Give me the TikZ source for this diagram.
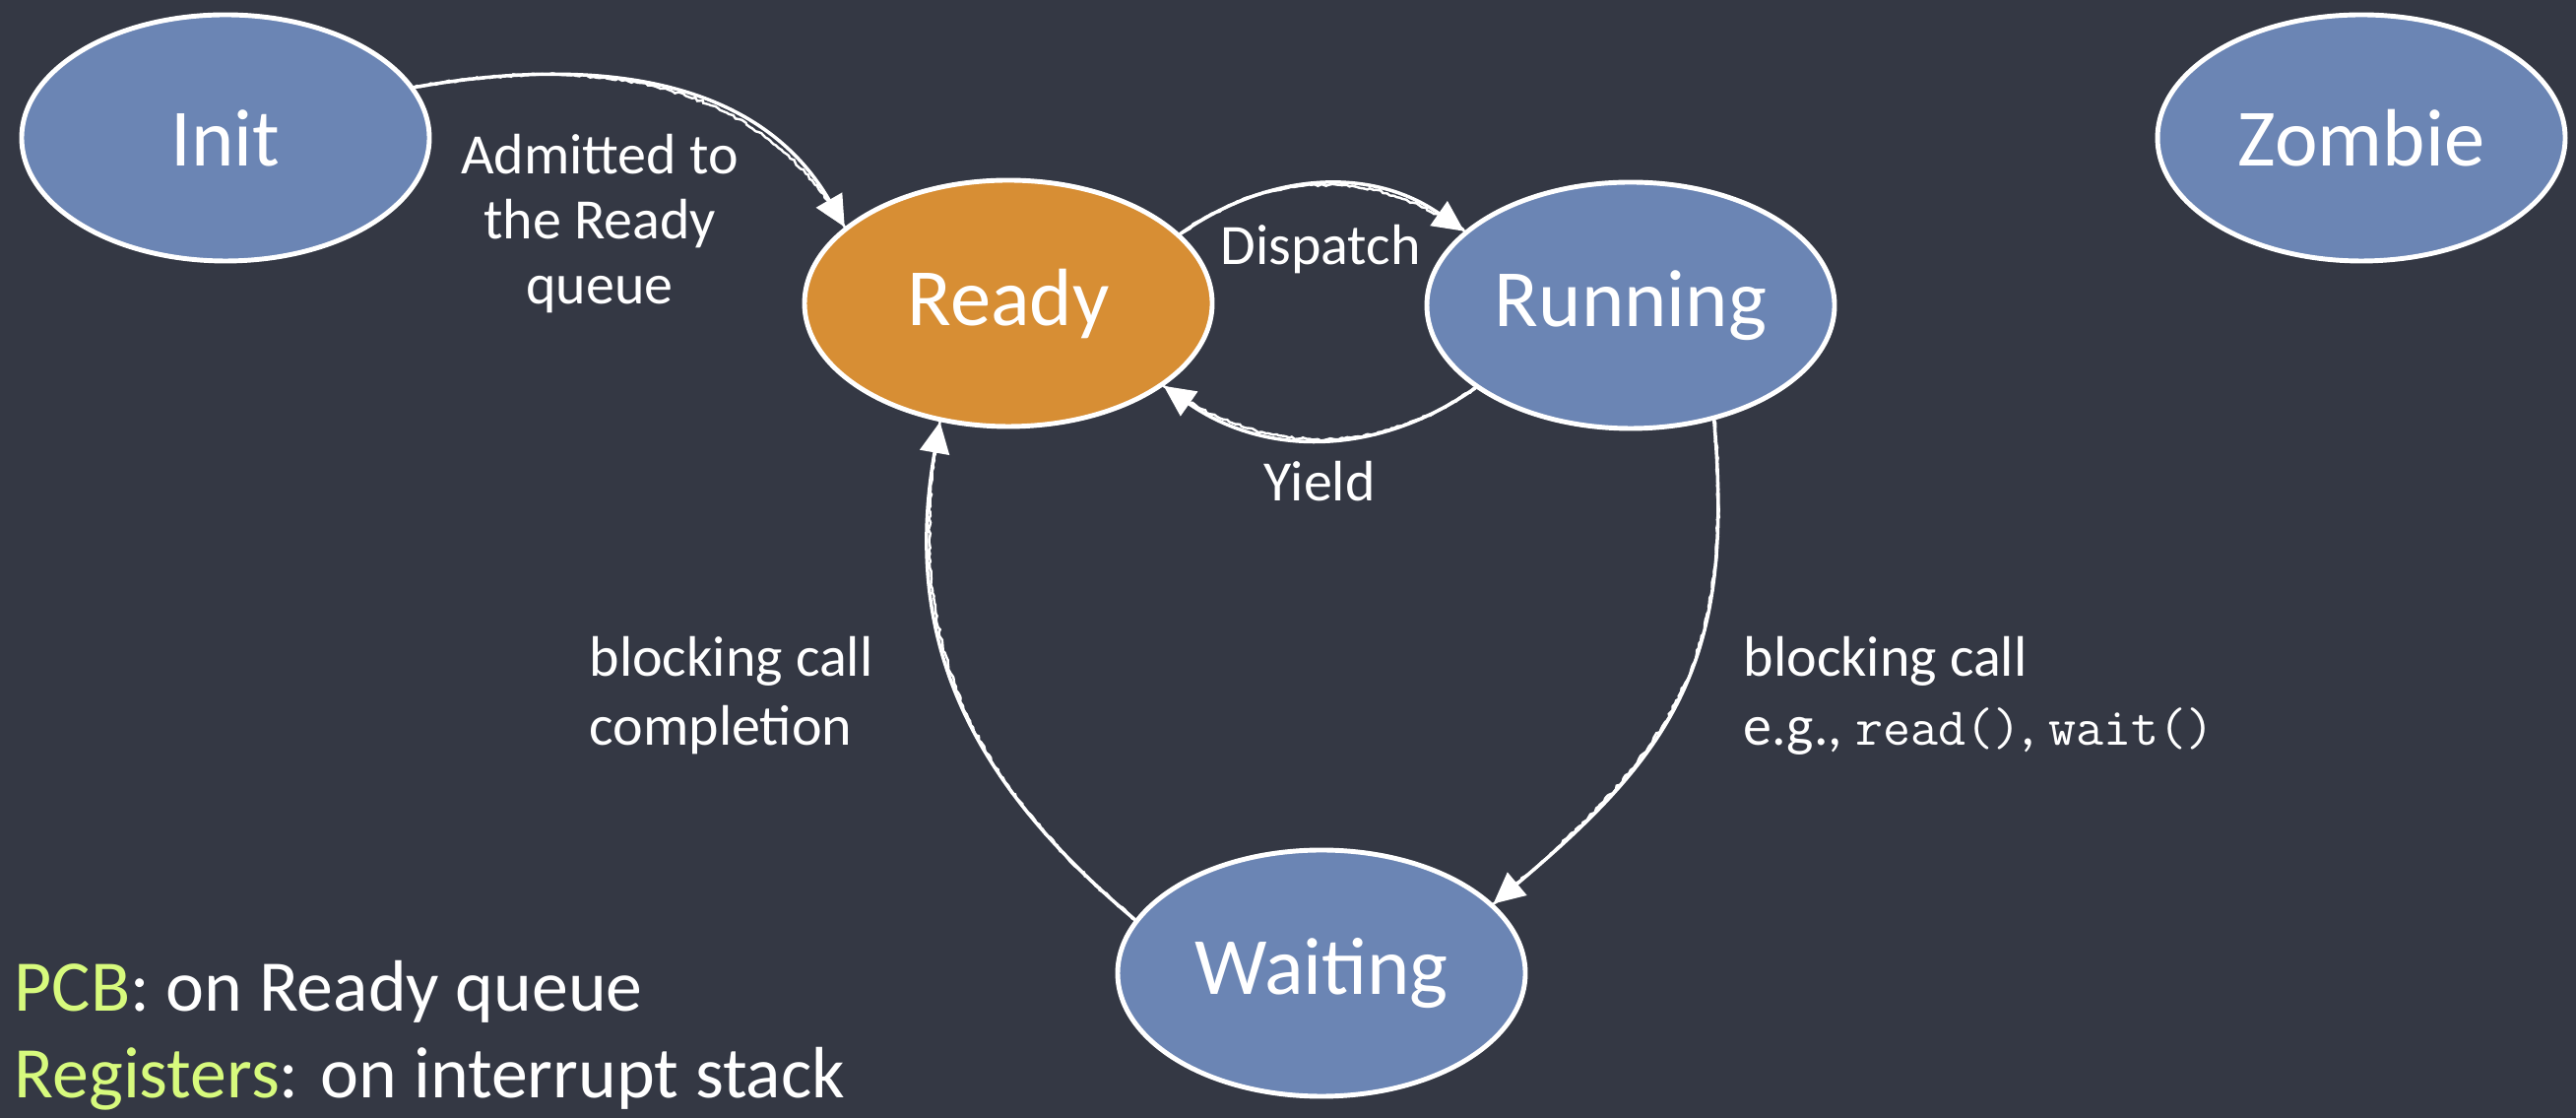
\documentclass[tikz,border=0pt]{standalone}
\usepackage{fontspec}
\setmainfont{Carlito}
\usetikzlibrary{shapes.geometric,arrows.meta,decorations.pathmorphing}
\definecolor{board}{RGB}{52,56,68}
\definecolor{stateblue}{RGB}{107,133,180}
\definecolor{stateorange}{RGB}{215,142,52}
\definecolor{chalkgreen}{RGB}{215,250,125}
\newcommand{\codeword}[1]{{\ttfamily\fontsize{15.5}{18}\selectfont #1}}
\begin{document}
\begin{tikzpicture}[
  state/.style={ellipse, draw=white, line width=1.4pt, fill=stateblue,
    minimum width=4.14cm, minimum height=2.5cm, inner sep=0pt,
    text=white, font=\fontsize{23.5}{27}\selectfont},
  chalk/.style={draw=white, line width=1pt, line cap=round,
    -{Triangle[length=9pt,width=8.5pt]},
    postaction={draw=white, line width=0.7pt, -, decorate,
      decoration={random steps, segment length=1pt, amplitude=0.35pt}}},
  lbl/.style={text=white, font=\fontsize{16.5}{20}\selectfont, inner sep=0pt},
  note/.style={text=white, font=\fontsize{21}{25}\selectfont, inner sep=0pt}
]
% chalkboard
\useasboundingbox (0,0) rectangle (26.16,11.35);
\fill[board] (0,0) rectangle (26.16,11.35);

% process states
\node[state] (init)    at (2.29,9.95)  {Init};
\node[state] (zombie)  at (23.98,9.95) {Zombie};
\node[state, fill=stateorange] (ready) at (10.24,8.27) {Ready};
\node[state] (running) at (16.56,8.25) {Running};
\node[state] (waiting) at (13.42,1.47) {Waiting};

% transitions
\draw[chalk] (init.15)    to[out=10,in=120]  (ready.155);
\draw[chalk] (ready.22)   to[out=35,in=145]  (running.156);
\draw[chalk] (running.208) to[out=215,in=-35] (ready.332);
\draw[chalk] (running.306) to[out=-85,in=40,looseness=1.15] (waiting.22);
\draw[chalk] (waiting.164) to[out=140,in=-100,looseness=1.05] (ready.240);

% transition labels
\node[lbl, anchor=base] (adm1) at (6.09,9.58) {Admitted to};
\node[lbl, anchor=base] (adm2) at (6.09,8.92) {the Ready};
\node[lbl, anchor=base] (adm3) at (6.09,8.26) {queue};
\node[lbl, anchor=base] (dispatch) at (13.41,8.66) {Dispatch};
\node[lbl, anchor=base] (yield) at (13.40,6.26) {Yield};
\node[lbl, anchor=base west] (bcl1) at (5.98,4.48) {blocking call};
\node[lbl, anchor=base west] (bcl2) at (5.98,3.78) {completion};
\node[lbl, anchor=base west] (bcr1) at (17.70,4.48) {blocking call};
\node[lbl, anchor=base west] (bcr2) at (17.70,3.78)
  {e.g., \codeword{read()}, \codeword{wait()}};

% notes
\node[note, anchor=base west] (pcb) at (0.14,1.08)
  {\textcolor{chalkgreen}{PCB}: on Ready queue};
\node[note, anchor=base west] (regs) at (0.14,0.20)
  {\textcolor{chalkgreen}{Registers}: on interrupt stack};
\end{tikzpicture}
\end{document}
